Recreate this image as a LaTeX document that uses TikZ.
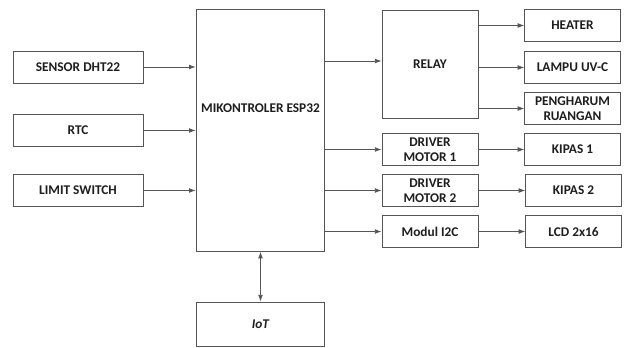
\documentclass[tikz,border=0pt]{standalone}
\usepackage{fontspec}
\setmainfont{Carlito}
\usetikzlibrary{arrows.meta, positioning, calc}
\definecolor{lineGray}{RGB}{85, 85, 85}
\definecolor{textDark}{RGB}{30, 30, 30}

\begin{document}
\begin{tikzpicture}[
        x=0.75pt, y=-0.75pt,
        font=\fontsize{10}{11}\selectfont\bfseries,
        block/.style={rectangle, draw=lineGray, line width=0.7pt, fill=white, text=textDark, align=center, inner sep=1pt},
        inblock/.style={block, minimum width=97.5pt, minimum height=24pt},
        midblock/.style={block, minimum width=72pt, minimum height=24.5pt},
        outblock/.style={block, minimum width=71.5pt, minimum height=24pt},
        arrow/.style={-{Latex[length=5pt,width=3.6pt]}, line width=0.6pt, lineGray},
        dblarrow/.style={{Latex[length=5pt,width=3.6pt]}-{Latex[length=5pt,width=3.6pt]}, line width=0.6pt, lineGray}
    ]
        \useasboundingbox (0,0) rectangle (627,347);

        % inputs
        \node[inblock] (dht) at (78,67) {SENSOR DHT22};
        \node[inblock] (rtc) at (78,130.5) {RTC};
        \node[inblock] (limit) at (78,190.5) {LIMIT SWITCH};

        % controller
        \node[block, minimum width=96.5pt, minimum height=181pt] (mcu) at (260.5,130.5) {};
        \node[text=textDark] (mcutext) at (260.5,108) {MIKONTROLER ESP32};
        \node[block, minimum width=96.5pt, minimum height=33pt] (iot) at (260.5,324) {\itshape IoT};

        % drivers
        \node[block, minimum width=72pt, minimum height=81pt] (relay) at (430,64) {RELAY};
        \node[midblock] (drv1) at (430,149.5) {DRIVER\\MOTOR 1};
        \node[midblock] (drv2) at (430,190.5) {DRIVER\\MOTOR 2};
        \node[midblock] (i2c) at (430,231.5) {Modul I2C};

        % loads
        \node[outblock] (heater) at (572.5,25.5) {HEATER};
        \node[outblock] (lampu) at (572.5,67.5) {LAMPU UV-C};
        \node[outblock] (harum) at (572.5,108.5) {PENGHARUM\\RUANGAN};
        \node[outblock] (kipas1) at (572.5,149.5) {KIPAS 1};
        \node[outblock] (kipas2) at (573.5,190.5) {KIPAS 2};
        \node[outblock] (lcd) at (573.5,231.5) {LCD 2x16};

        \draw[arrow] (dht.east) -- (dht.east -| mcu.west);
        \draw[arrow] (rtc.east) -- (rtc.east -| mcu.west);
        \draw[arrow] (limit.east) -- (limit.east -| mcu.west);

        \draw[arrow] ($(mcu.east |- relay.west)+(0,-3)$) -- ($(relay.west)+(0,-3)$);
        \draw[arrow] (mcu.east |- drv1.west) -- (drv1.west);
        \draw[arrow] (mcu.east |- drv2.west) -- (drv2.west);
        \draw[arrow] (mcu.east |- i2c.west) -- (i2c.west);
        \draw[dblarrow] (mcu.south) -- (iot.north);

        \draw[arrow] (relay.east |- heater.west) -- (heater.west);
        \draw[arrow] (relay.east |- lampu.west) -- (lampu.west);
        \draw[arrow] (relay.east |- harum.west) -- (harum.west);
        \draw[arrow] (drv1.east) -- (kipas1.west);
        \draw[arrow] (drv2.east) -- (kipas2.west);
        \draw[arrow] (i2c.east) -- (lcd.west);
    \end{tikzpicture}
\end{document}
